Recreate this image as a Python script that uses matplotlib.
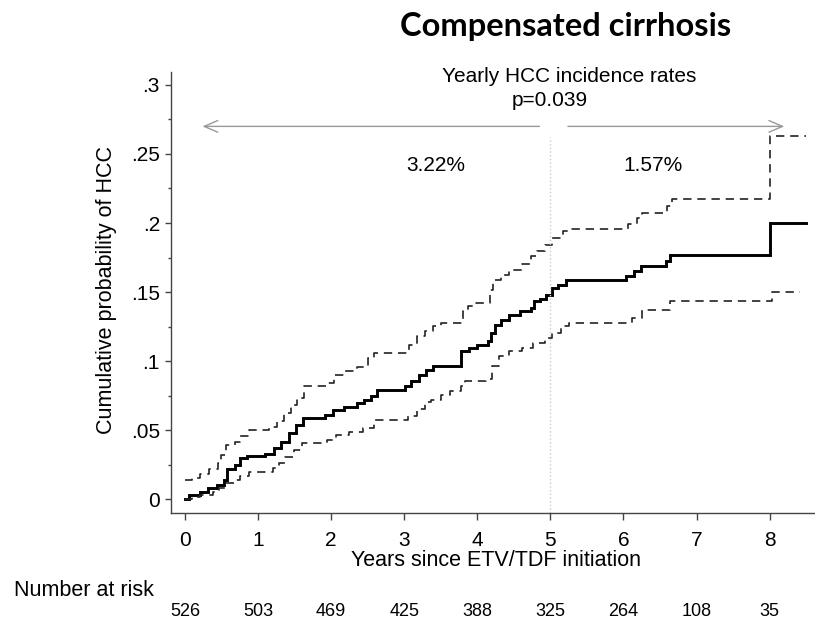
import numpy as np
from matplotlib import pyplot as plt, rcParams, ticker
from matplotlib.transforms import blended_transform_factory

rcParams.update({'font.family': ['Liberation Sans', 'DejaVu Sans'], 'font.size': 14})

# Kaplan-Meier cumulative incidence (step times / values after each step)
t_est = [0, 0.06, 0.2, 0.32, 0.44, 0.53, 0.57, 0.68, 0.76, 0.85, 1.1, 1.22, 1.31, 1.42, 1.52,
         1.62, 1.92, 2.02, 2.18, 2.36, 2.45, 2.55, 2.63, 3.01, 3.1, 3.2, 3.3, 3.4, 3.78, 3.89,
         4.0, 4.15, 4.19, 4.24, 4.33, 4.44, 4.59, 4.73, 4.78, 4.86, 4.94, 5.02, 5.1, 5.22, 6.03,
         6.15, 6.24, 6.58, 6.64, 8.0, 8.5]
v_est = [0, 0.003, 0.0053, 0.0077, 0.01, 0.0138, 0.022, 0.0246, 0.0295, 0.031, 0.033, 0.0367,
         0.0415, 0.0476, 0.0536, 0.0584, 0.0609, 0.0645, 0.0664, 0.0693, 0.0717, 0.0744, 0.0788,
         0.0817, 0.0853, 0.09, 0.0937, 0.0961, 0.107, 0.1094, 0.1118, 0.1143, 0.12, 0.1263, 0.13,
         0.1336, 0.136, 0.1384, 0.1432, 0.1452, 0.148, 0.153, 0.155, 0.1585, 0.1614, 0.165,
         0.1686, 0.1722, 0.177, 0.2, 0.2]

t_up = [0, 0.1, 0.21, 0.33, 0.45, 0.5, 0.56, 0.68, 0.76, 0.88, 1.15, 1.26, 1.35, 1.45, 1.53,
        1.63, 1.95, 2.04, 2.18, 2.36, 2.5, 2.59, 3.06, 3.17, 3.28, 3.4, 3.51, 3.8, 3.87, 3.98,
        4.17, 4.21, 4.33, 4.44, 4.61, 4.73, 4.82, 4.93, 5.02, 5.17, 5.25, 6.06, 6.18, 6.25, 6.59,
        6.67, 8.0, 8.5]
v_up = [0.0138, 0.015, 0.018, 0.022, 0.026, 0.032, 0.039, 0.0415, 0.046, 0.05, 0.0524, 0.0565,
        0.062, 0.068, 0.0735, 0.0817, 0.084, 0.09, 0.0925, 0.096, 0.102, 0.1058, 0.1118, 0.118,
        0.1215, 0.1251, 0.1276, 0.136, 0.1396, 0.142, 0.1517, 0.159, 0.1626, 0.1662, 0.17, 0.176,
        0.1795, 0.1843, 0.1891, 0.194, 0.1957, 0.199, 0.2035, 0.2075, 0.2123, 0.2174, 0.2627,
        0.2627]

t_lo = [0, 0.1, 0.21, 0.39, 0.47, 0.56, 0.68, 0.76, 0.88, 1.2, 1.29, 1.37, 1.49, 1.6, 1.95,
        2.07, 2.24, 2.44, 2.59, 3.05, 3.17, 3.28, 3.37, 3.51, 3.63, 3.78, 3.83, 4.12, 4.2, 4.3,
        4.44, 4.61, 4.76, 4.93, 5.02, 5.14, 5.25, 6.12, 6.26, 6.64, 8.03, 8.42]
v_lo = [0, 0.0017, 0.003, 0.0053, 0.0077, 0.0113, 0.0138, 0.0167, 0.0198, 0.0222, 0.0258,
        0.0307, 0.0355, 0.0403, 0.0427, 0.0464, 0.0488, 0.0512, 0.057, 0.0605, 0.0655, 0.07,
        0.072, 0.0756, 0.078, 0.0817, 0.0853, 0.087, 0.0961, 0.1034, 0.107, 0.1094, 0.113,
        0.1167, 0.12, 0.1251, 0.1276, 0.1312, 0.1372, 0.1432, 0.1502, 0.1502]

risk_years = [0, 1, 2, 3, 4, 5, 6, 7, 8]
at_risk = [526, 503, 469, 425, 388, 325, 264, 108, 35]

y_ticks = [0, 0.05, 0.1, 0.15, 0.2, 0.25, 0.3]
y_tick_labels = ['0', '.05', '.1', '.15', '.2', '.25', '.3']

rates = ['3.22%', '1.57%']
rate_x = [3.43, 6.41]
split_year = 5

fig = plt.figure(figsize=(8.15, 6.19), dpi=100)
ax = fig.add_axes([171/815, 1 - 513/619, 1 - 171/815, (513 - 72)/619])

ax.plot(t_est, v_est, drawstyle='steps-post', c='k', lw=2.1, solid_joinstyle='miter')
ax.plot(t_up, v_up, drawstyle='steps-post', c='#222222', lw=1.2, dashes=(5, 3.5))
ax.plot(t_lo, v_lo, drawstyle='steps-post', c='#222222', lw=1.2, dashes=(5, 3.5))

ax.set_xlim(-0.19, 8.62)
ax.set_ylim(-0.0101, 0.3094)

# вертикальна лінія на 5 роках
ax.vlines(split_year, -0.0101, 0.262, colors='#cccccc', linestyles=':', lw=1)

arrow = dict(arrowstyle='->,head_length=0.7,head_width=0.3', color='#999999', lw=1,
             shrinkA=0, shrinkB=0)
ax.annotate('', xy=(0.24, 0.27), xytext=(4.85, 0.27), arrowprops=arrow)
ax.annotate('', xy=(8.2, 0.27), xytext=(5.24, 0.27), arrowprops=arrow)

ax.text(5.26, 0.3058, 'Yearly HCC incidence rates', ha='center', va='center', fontsize=15)
ax.text(4.99, 0.289, 'p=0.039', ha='center', va='center', fontsize=15)
for x, r in zip(rate_x, rates):
    ax.text(x, 0.2413, r, ha='center', va='center', fontsize=15)

for s in ('top', 'right'):
    ax.spines[s].set_visible(False)
for s in ('left', 'bottom'):
    ax.spines[s].set_color('#444444')
    ax.spines[s].set_linewidth(1)

ax.xaxis.set_major_locator(ticker.MultipleLocator(1))
ax.set_yticks(y_ticks)
ax.set_yticklabels(y_tick_labels)
ax.yaxis.set_minor_locator(ticker.MultipleLocator(0.025))
ax.tick_params(axis='x', length=5, width=1, color='#444444', pad=8, labelsize=15)
ax.tick_params(axis='y', which='major', length=4, width=1, color='#444444', pad=4,
               labelsize=15)
ax.tick_params(axis='y', which='minor', length=2, width=1, color='#444444')

fig.text(107/815, 1 - 290/619, 'Cumulative probability of HCC', rotation=90,
         ha='center', va='center', fontsize=15.5)
fig.text(496/815, 1 - 566/619, 'Years since ETV/TDF initiation', ha='center',
         va='baseline', fontsize=15.5)

fig.text(566/815, 1 - 36/619, 'Compensated cirrhosis', ha='center', va='baseline',
         fontsize=23.5, fontweight='bold', family=['Lato', 'DejaVu Sans'])

fig.text(14/815, 1 - 596/619, 'Number at risk', ha='left', va='baseline', fontsize=15.5)
tr = blended_transform_factory(ax.transData, fig.transFigure)
for x, n in zip(risk_years, at_risk):
    ax.text(x, 1 - 611/619, str(n), transform=tr, ha='center', va='center', fontsize=13,
            clip_on=False)

plt.savefig('out.png', dpi=100)
